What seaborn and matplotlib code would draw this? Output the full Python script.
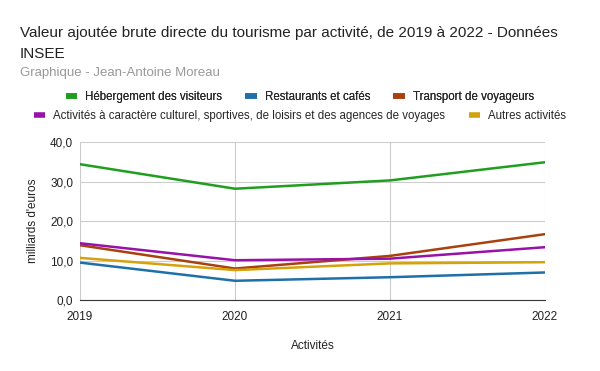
import pandas as pd
import matplotlib
matplotlib.use("Agg")
import matplotlib.pyplot as plt
import seaborn as sns
from matplotlib.ticker import FuncFormatter
from matplotlib.lines import Line2D

# données (milliards d'euros)
annees = [2019, 2020, 2021, 2022]
hebergement = [34.4, 28.2, 30.3, 34.9]
restaurants = [9.5, 4.9, 5.8, 7.0]
transport = [13.9, 8.0, 11.2, 16.7]
culture = [14.4, 10.1, 10.5, 13.4]
autres = [10.7, 7.6, 9.3, 9.6]

noms = ["Hébergement des visiteurs", "Restaurants et cafés", "Transport de voyageurs",
        "Activités à caractère culturel, sportives, de loisirs et des agences de voyages",
        "Autres activités"]
couleurs = ["#1f9e1f", "#1f6fa8", "#a9410e", "#9812a8", "#d4a20c"]

df = pd.DataFrame({"annee": annees * 5,
                   "valeur": hebergement + restaurants + transport + culture + autres,
                   "serie": [n for n in noms for _ in annees]})

sns.set_style("white")
plt.rcParams['font.family'] = ['Liberation Sans', 'DejaVu Sans']

fig = plt.figure(figsize=(6, 3.71), dpi=100)
ax = fig.add_axes([0.1333, 0.191, 0.775, 0.426])
sns.lineplot(data=df, x="annee", y="valeur", hue="serie", hue_order=noms,
             palette=couleurs, linewidth=1.8, ax=ax, legend=False)

ax.set_xlim(2019, 2022)
ax.set_ylim(0, 40)
ax.set_xticks(annees)
ax.set_yticks([0, 10, 20, 30, 40])
ax.yaxis.set_major_formatter(FuncFormatter(lambda v, p: f"{v:.1f}".replace(".", ",")))
ax.grid(True, color="#cccccc", linewidth=0.8)
for s in ["top", "right", "left"]:
    ax.spines[s].set_visible(False)
ax.spines["bottom"].set_color("#333333")
ax.tick_params(axis="both", labelsize=8.5, length=0, colors="#222222")
ax.tick_params(axis="y", pad=5)
ax.tick_params(axis="x", pad=8)
ax.set_xlabel("Activités", fontsize=8.5, color="#222222", labelpad=12)
ax.set_ylabel("milliards d'euros", fontsize=8.5, color="#222222", labelpad=8)

fig.text(0.033, 0.93, "Valeur ajoutée brute directe du tourisme par activité, de 2019 à 2022 - Données\nINSEE",
         fontsize=11, va="top", ha="left", color="#222222", linespacing=1.6)
fig.text(0.033, 0.803, "Graphique - Jean-Antoine Moreau", fontsize=9.5, va="center", ha="left", color="#999999")

poignees = [Line2D([], [], color=c, linewidth=4, solid_capstyle="butt") for c in couleurs]
leg1 = fig.legend(poignees[:3], noms[:3], loc="center", bbox_to_anchor=(0.5, 0.738), ncol=3,
                  frameon=False, fontsize=8.3, handlelength=1.0, handletextpad=0.7, columnspacing=2.0)
fig.add_artist(leg1)
fig.legend(poignees[3:], noms[3:], loc="center", bbox_to_anchor=(0.5, 0.688), ncol=2,
           frameon=False, fontsize=8.3, handlelength=1.0, handletextpad=0.7, columnspacing=2.0)

fig.savefig("out.png", dpi=100)
